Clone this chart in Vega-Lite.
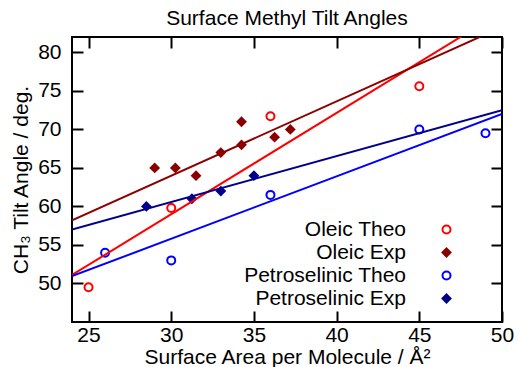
{
  "$schema": "https://vega.github.io/schema/vega-lite/v6.json",
  "width": 430,
  "height": 285,
  "autosize": "none",
  "padding": {"left": 72, "top": 37, "right": 16, "bottom": 45},
  "title": {"text": "Surface Methyl Tilt Angles", "fontSize": 21, "fontWeight": "normal", "font": "Liberation Sans", "color": "black", "offset": 7, "anchor": "middle"},
  "config": {
    "view": {"stroke": "black", "strokeWidth": 2},
    "font": "Liberation Sans",
    "axis": {
      "domain": false,
      "grid": false,
      "ticks": true,
      "tickColor": "black",
      "tickWidth": 2,
      "tickSize": -11,
      "labelFont": "Liberation Sans",
      "labelFontSize": 21,
      "labelColor": "black",
      "titleFont": "Liberation Sans",
      "titleFontSize": 21,
      "titleFontWeight": "normal",
      "titleColor": "black"
    },
    "legend": {
      "symbolStrokeWidth": 2,
      "symbolSize": 64,
      "labelFont": "Liberation Sans",
      "labelFontSize": 21,
      "labelColor": "black",
      "labelLimit": 300
    }
  },
  "datasets": {
    "points": [
      {"series": "Oleic Theo", "area": 25, "angle": 49.5},
      {"series": "Oleic Theo", "area": 30, "angle": 59.8},
      {"series": "Oleic Theo", "area": 36, "angle": 71.7},
      {"series": "Oleic Theo", "area": 45, "angle": 75.6},
      {"series": "Oleic Exp", "area": 29.0, "angle": 65.0},
      {"series": "Oleic Exp", "area": 30.25, "angle": 65.0},
      {"series": "Oleic Exp", "area": 31.5, "angle": 64.0},
      {"series": "Oleic Exp", "area": 33.0, "angle": 67.0},
      {"series": "Oleic Exp", "area": 34.25, "angle": 71.0},
      {"series": "Oleic Exp", "area": 34.25, "angle": 68.0},
      {"series": "Oleic Exp", "area": 36.25, "angle": 69.0},
      {"series": "Oleic Exp", "area": 37.2, "angle": 70.0},
      {"series": "Petroselinic Theo", "area": 26, "angle": 54.0},
      {"series": "Petroselinic Theo", "area": 30, "angle": 53.0},
      {"series": "Petroselinic Theo", "area": 36, "angle": 61.5},
      {"series": "Petroselinic Theo", "area": 45, "angle": 70.0},
      {"series": "Petroselinic Theo", "area": 49, "angle": 69.5},
      {"series": "Petroselinic Exp", "area": 28.5, "angle": 60.0},
      {"series": "Petroselinic Exp", "area": 31.25, "angle": 61.0},
      {"series": "Petroselinic Exp", "area": 33.0, "angle": 62.0},
      {"series": "Petroselinic Exp", "area": 35.0, "angle": 64.0}
    ],
    "fits": [
      {"fit": "Oleic Theo", "area": 24, "angle": 51.1},
      {"fit": "Oleic Theo", "area": 50, "angle": 85.3},
      {"fit": "Oleic Exp", "area": 24, "angle": 58.2},
      {"fit": "Oleic Exp", "area": 50, "angle": 83.3},
      {"fit": "Petroselinic Theo", "area": 24, "angle": 50.95},
      {"fit": "Petroselinic Theo", "area": 50, "angle": 72.0},
      {"fit": "Petroselinic Exp", "area": 24, "angle": 57.0},
      {"fit": "Petroselinic Exp", "area": 50, "angle": 72.5}
    ]
  },
  "layer": [
    {
      "data": {"name": "points"},
      "mark": {"type": "point", "strokeWidth": 2, "opacity": 1, "size": 64},
      "encoding": {
        "x": {"field": "area", "type": "quantitative", "scale": {"domain": [24, 50], "nice": false, "zero": false},
              "axis": {"orient": "bottom", "title": "Surface Area per Molecule / Å²", "values": [25, 30, 35, 40, 45, 50], "labelPadding": 13, "titlePadding": 1, "labelFlush": false}},
        "y": {"field": "angle", "type": "quantitative", "scale": {"domain": [45, 82], "nice": false, "zero": false},
              "axis": {"orient": "left", "title": "CH₃ Tilt Angle / deg.", "values": [50, 55, 60, 65, 70, 75, 80], "labelPadding": 22, "titlePadding": 6, "labelFlush": false}},
        "stroke": {"field": "series", "type": "nominal",
                   "scale": {"domain": ["Oleic Theo", "Oleic Exp", "Petroselinic Theo", "Petroselinic Exp"], "range": ["#ff0000", "#8b0000", "#0000ff", "#00008b"]},
                   "legend": {"title": null, "orient": "none", "legendX": 316, "legendY": 182, "labelAlign": "right", "labelOffset": -51, "symbolOffset": 48, "rowPadding": 1}},
        "fill": {"field": "series", "type": "nominal",
                 "scale": {"domain": ["Oleic Theo", "Oleic Exp", "Petroselinic Theo", "Petroselinic Exp"], "range": ["#ffffff", "#8b0000", "#ffffff", "#00008b"]},
                 "legend": {"title": null, "orient": "none", "legendX": 316, "legendY": 182, "labelAlign": "right", "labelOffset": -51, "symbolOffset": 48, "rowPadding": 1}},
        "shape": {"field": "series", "type": "nominal",
                  "scale": {"domain": ["Oleic Theo", "Oleic Exp", "Petroselinic Theo", "Petroselinic Exp"], "range": ["circle", "diamond", "circle", "diamond"]},
                  "legend": {"title": null, "orient": "none", "legendX": 316, "legendY": 182, "labelAlign": "right", "labelOffset": -51, "symbolOffset": 48, "rowPadding": 1}}
      }
    },
    {
      "data": {"name": "fits"},
      "mark": {"type": "line", "clip": true, "strokeWidth": 2},
      "encoding": {
        "x": {"field": "area", "type": "quantitative",
              "axis": {"orient": "top", "labels": false, "title": null, "values": [25, 30, 35, 40, 45, 50]}},
        "y": {"field": "angle", "type": "quantitative",
              "axis": {"orient": "right", "labels": false, "title": null, "values": [50, 55, 60, 65, 70, 75, 80]}},
        "color": {"field": "fit", "type": "nominal", "legend": null,
                  "scale": {"domain": ["Oleic Theo", "Oleic Exp", "Petroselinic Theo", "Petroselinic Exp"], "range": ["#ff0000", "#8b0000", "#0000ff", "#00008b"]}}
      }
    }
  ],
  "resolve": {"axis": {"x": "independent", "y": "independent"}}
}
